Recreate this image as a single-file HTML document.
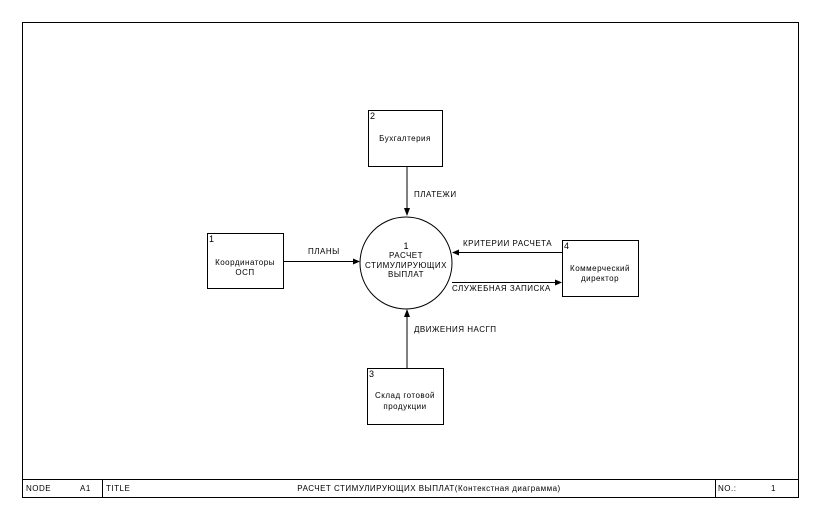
<!DOCTYPE html>
<html><head><meta charset="utf-8"><style>
body{margin:0;background:#fff;}
svg{display:block;font-family:"Liberation Sans",sans-serif;font-size:8px;letter-spacing:0.5px;}
.n{font-size:9px;letter-spacing:0;}
</style></head><body>
<svg width="821" height="520" viewBox="0 0 821 520">
<rect x="0" y="0" width="821" height="520" fill="#fff"/>
<g stroke="#000" fill="none" stroke-width="1">
<rect x="22.5" y="22.5" width="776" height="475"/>
<line x1="22" y1="479.5" x2="798" y2="479.5"/>
<line x1="102.5" y1="479" x2="102.5" y2="497"/>
<line x1="715.5" y1="479" x2="715.5" y2="497"/>
<circle cx="406" cy="263" r="46"/>
<rect x="368.5" y="110.5" width="74" height="56"/>
<rect x="207.5" y="233.5" width="76" height="55"/>
<rect x="562.5" y="240.5" width="76" height="56"/>
<rect x="367.5" y="368.5" width="76" height="56"/>
<line x1="407" y1="166" x2="407" y2="212"/>
<line x1="284" y1="261.5" x2="355" y2="261.5"/>
<line x1="562" y1="252.5" x2="457" y2="252.5"/>
<line x1="452" y1="282.5" x2="557" y2="282.5"/>
<line x1="407" y1="368" x2="407" y2="314"/>
</g>
<g fill="#000">
<polygon points="404,208 410,208 407,216"/>
<polygon points="353,258.5 353,264.5 360,261.5"/>
<polygon points="459,249.5 459,255.5 452,252.5"/>
<polygon points="555,279.5 555,285.5 562,282.5"/>
<polygon points="404,317 410,317 407,309"/>
</g>
<g fill="#000">
<text class="n" x="370" y="119">2</text>
<text x="405" y="141" text-anchor="middle">Бухгалтерия</text>
<text class="n" x="209" y="242">1</text>
<text x="245" y="265" text-anchor="middle">Координаторы</text>
<text x="245" y="275" text-anchor="middle">ОСП</text>
<text class="n" x="564" y="249">4</text>
<text x="600" y="271" text-anchor="middle">Коммерческий</text>
<text x="600" y="281" text-anchor="middle">директор</text>
<text class="n" x="369" y="377">3</text>
<text x="405" y="398" text-anchor="middle">Склад готовой</text>
<text x="405" y="409" text-anchor="middle">продукции</text>
<text class="n" x="406" y="249" text-anchor="middle">1</text>
<text x="406" y="258" text-anchor="middle">РАСЧЕТ</text>
<text x="406" y="268" text-anchor="middle">СТИМУЛИРУЮЩИХ</text>
<text x="406" y="277" text-anchor="middle">ВЫПЛАТ</text>
<text x="414" y="197">ПЛАТЕЖИ</text>
<text x="308" y="254">ПЛАНЫ</text>
<text x="463" y="246">КРИТЕРИИ РАСЧЕТА</text>
<text x="452" y="291">СЛУЖЕБНАЯ ЗАПИСКА</text>
<text x="414" y="332">ДВИЖЕНИЯ НАСГП</text>
<text x="26" y="491">NODE</text>
<text x="80" y="491">A1</text>
<text x="106" y="491">TITLE</text>
<text x="429" y="491" text-anchor="middle">РАСЧЕТ СТИМУЛИРУЮЩИХ ВЫПЛАТ(Контекстная диаграмма)</text>
<text x="718" y="491">NO.:</text>
<text x="771" y="491">1</text>
</g>
</svg>
</body></html>
